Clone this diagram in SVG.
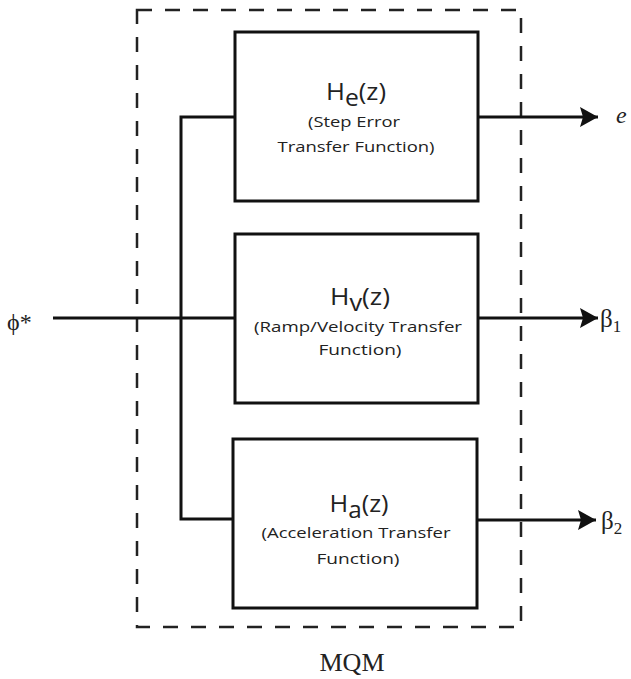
<svg xmlns="http://www.w3.org/2000/svg" width="631" height="679" viewBox="0 0 631 679">
<defs>
<marker id="arr" markerWidth="20" markerHeight="20" refX="18" refY="10" orient="auto" markerUnits="userSpaceOnUse">
<path d="M0,0 L18,10 L0,20 L3,10 Z" fill="#111"/>
</marker>
<style>
.blk{fill:#fff;stroke:#111;stroke-width:3}
.ln{fill:none;stroke:#111;stroke-width:3}
.dash{fill:none;stroke:#222;stroke-width:2.5;stroke-dasharray:15 13}
.t{font-family:"Open Sans","Liberation Sans",sans-serif;fill:#222;text-anchor:middle}
.h{font-size:24px}
.s{font-size:15px}
.m{font-family:"Liberation Serif",serif;fill:#222}
</style>
</defs>
<rect id="mqm-box" class="dash" x="137" y="10" width="384" height="617"/>
<g id="connectors">
<line class="ln" x1="53" y1="318" x2="235" y2="318"/>
<polyline class="ln" points="235,117 181,117 181,519 233,519"/>
<line class="ln" x1="478" y1="117" x2="598" y2="117" marker-end="url(#arr)"/>
<line class="ln" x1="478" y1="318" x2="598" y2="318" marker-end="url(#arr)"/>
<line class="ln" x1="477" y1="520" x2="596" y2="520" marker-end="url(#arr)"/>
</g>
<g id="he">
<rect class="blk" x="235" y="32" width="243" height="169"/>
<text class="t h" x="356" y="100" textLength="60" lengthAdjust="spacingAndGlyphs">H<tspan font-size="23" dy="6">e</tspan><tspan dy="-6">(z)</tspan></text>
<text class="t s" x="354" y="127" textLength="92" lengthAdjust="spacingAndGlyphs">(Step Error</text>
<text class="t s" x="356" y="152" textLength="157" lengthAdjust="spacingAndGlyphs">Transfer Function)</text>
</g>
<g id="hv">
<rect class="blk" x="235" y="234" width="243" height="169"/>
<text class="t h" x="360" y="305" textLength="60" lengthAdjust="spacingAndGlyphs">H<tspan font-size="23" dy="6">v</tspan><tspan dy="-6">(z)</tspan></text>
<text class="t s" x="358" y="332" textLength="208" lengthAdjust="spacingAndGlyphs">(Ramp/Velocity Transfer</text>
<text class="t s" x="360" y="355" textLength="83" lengthAdjust="spacingAndGlyphs">Function)</text>
</g>
<g id="ha">
<rect class="blk" x="233" y="439" width="244" height="169"/>
<text class="t h" x="359" y="512" textLength="59" lengthAdjust="spacingAndGlyphs">H<tspan font-size="23" dy="6">a</tspan><tspan dy="-6">(z)</tspan></text>
<text class="t s" x="356" y="538" textLength="189" lengthAdjust="spacingAndGlyphs">(Acceleration Transfer</text>
<text class="t s" x="358" y="564" textLength="83" lengthAdjust="spacingAndGlyphs">Function)</text>
</g>
<text class="m" x="7" y="330" font-size="24">ϕ*</text>
<text class="m" x="616" y="123" font-size="24" font-style="italic">e</text>
<text class="m" x="600" y="327" font-size="25">β<tspan font-size="17" dy="5">1</tspan></text>
<text class="m" x="601" y="529" font-size="25">β<tspan font-size="17" dy="5">2</tspan></text>
<text class="m" x="352" y="671" font-size="26" text-anchor="middle">MQM</text>
</svg>
